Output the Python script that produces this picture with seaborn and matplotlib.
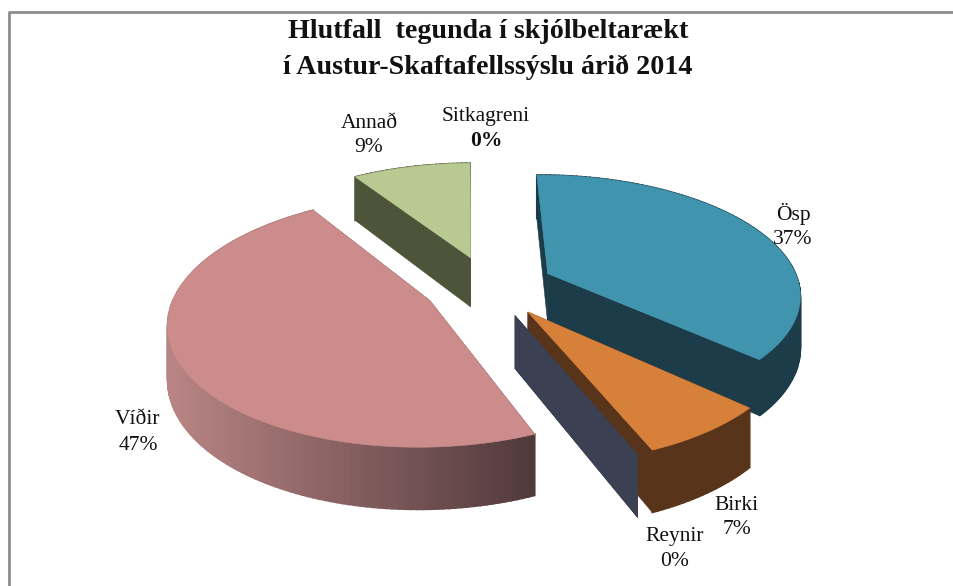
import numpy as np
import matplotlib
matplotlib.use("Agg")
import matplotlib.pyplot as plt
import seaborn as sns

# share of each species, clockwise from the top of the pie
names = ["Ösp", "Birki", "Reynir", "Víðir", "Annað", "Sitkagreni"]
values = [37, 7, 0, 47, 9, 0]

top_colors = ["#4094ae", "#d7803a", "#4f81bd", "#cd8c8c", "#b8ca92", "#8064a2"]
wall_left = ["#1b3c48", "#58341a", "#3b4052", "#b98484", "#4e543a", "#3b4052"]
wall_right = ["#1b3c48", "#58341a", "#3b4052", "#50393a", "#4e543a", "#3b4052"]

# label centres in picture pixels
label_x = [793, 737, 675, 138, 369, 486]
label_y = [214, 505, 537, 420, 123, 116]

title_lines = ["Hlutfall  tegunda í skjólbeltarækt", "í Austur-Skaftafellssýslu árið 2014"]

# pie geometry
cx, cy = 489, 286
rx, ry = 252, 118
persp = 0.16
depth = 51
explode = 0.26
start_deg = -0.8
draw_order = [4, 0, 3, 1, 2]

sns.set_theme(style="white")
plt.rcParams["font.family"] = ["Liberation Serif", "DejaVu Serif"]


def project(u, v, z=0):
    s = 1 / (1 + persp * v)
    return cx + rx * u * s, cy - ry * v * s + z * depth * s


def slice_points(a0, a1, n):
    mid = (a0 + a1) / 2
    ou, ov = explode * np.sin(mid), explode * np.cos(mid)
    ang = np.linspace(a0, a1, n)
    return ou, ov, ou + np.sin(ang), ov + np.cos(ang)


fig, ax = plt.subplots(figsize=(9.54, 5.86), dpi=100)
fig.subplots_adjust(0, 0, 1, 1)
ax.set_xlim(0, 954)
ax.set_ylim(586, 0)
ax.axis("off")

# chart frame, runs off the right and bottom of the picture
ax.plot([9.5, 9.5, 960], [600, 11.5, 11.5], color="#8c8c8c", lw=2, clip_on=False)

edges = np.radians(start_deg + np.cumsum([0] + values) * 3.6)

for i in draw_order:
    a0, a1 = edges[i], edges[i + 1]
    n = max(2, int(values[i] * 3) + 2)
    ou, ov, us, vs = slice_points(a0, a1, n)

    # cut faces from centre to rim
    for end in (0, -1):
        xs = [project(ou, ov)[0], project(us[end], vs[end])[0], project(us[end], vs[end], 1)[0], project(ou, ov, 1)[0]]
        ys = [project(ou, ov)[1], project(us[end], vs[end])[1], project(us[end], vs[end], 1)[1], project(ou, ov, 1)[1]]
        ax.fill(xs, ys, color=wall_right[i], lw=0.4)

    if values[i] == 0:
        continue

    # outer wall in thin strips so it can shade from left to right
    shades = sns.blend_palette([wall_left[i], wall_right[i]], 101)
    x_rim, y_rim = project(us, vs)
    x_low, y_low = project(us, vs, 1)
    lo, hi = x_rim.min(), x_rim.max()
    for j in range(n - 1):
        col = shades[int(100 * ((x_rim[j] + x_rim[j + 1]) / 2 - lo) / (hi - lo))]
        ax.fill([x_rim[j], x_rim[j + 1], x_low[j + 1], x_low[j]],
                [y_rim[j], y_rim[j + 1], y_low[j + 1], y_low[j]], color=col, lw=1.2)

    # top face
    ox, oy = project(ou, ov)
    ax.fill(np.r_[ox, x_rim], np.r_[oy, y_rim], color=top_colors[i], lw=0.4)

for i, name in enumerate(names):
    ax.text(label_x[i], label_y[i], name, ha="center", va="center", fontsize=15.5, color="#111111")
    ax.text(label_x[i], label_y[i] + 25, f"{values[i]}%", ha="center", va="center", fontsize=15.5,
            color="#111111", fontweight="bold" if name == "Sitkagreni" else "normal")

for k, line in enumerate(title_lines):
    ax.text(488, 32 + 35 * k, line, ha="center", va="center", fontsize=20.2, fontweight="bold", color="#111111")

fig.savefig("out.png", dpi=100)
